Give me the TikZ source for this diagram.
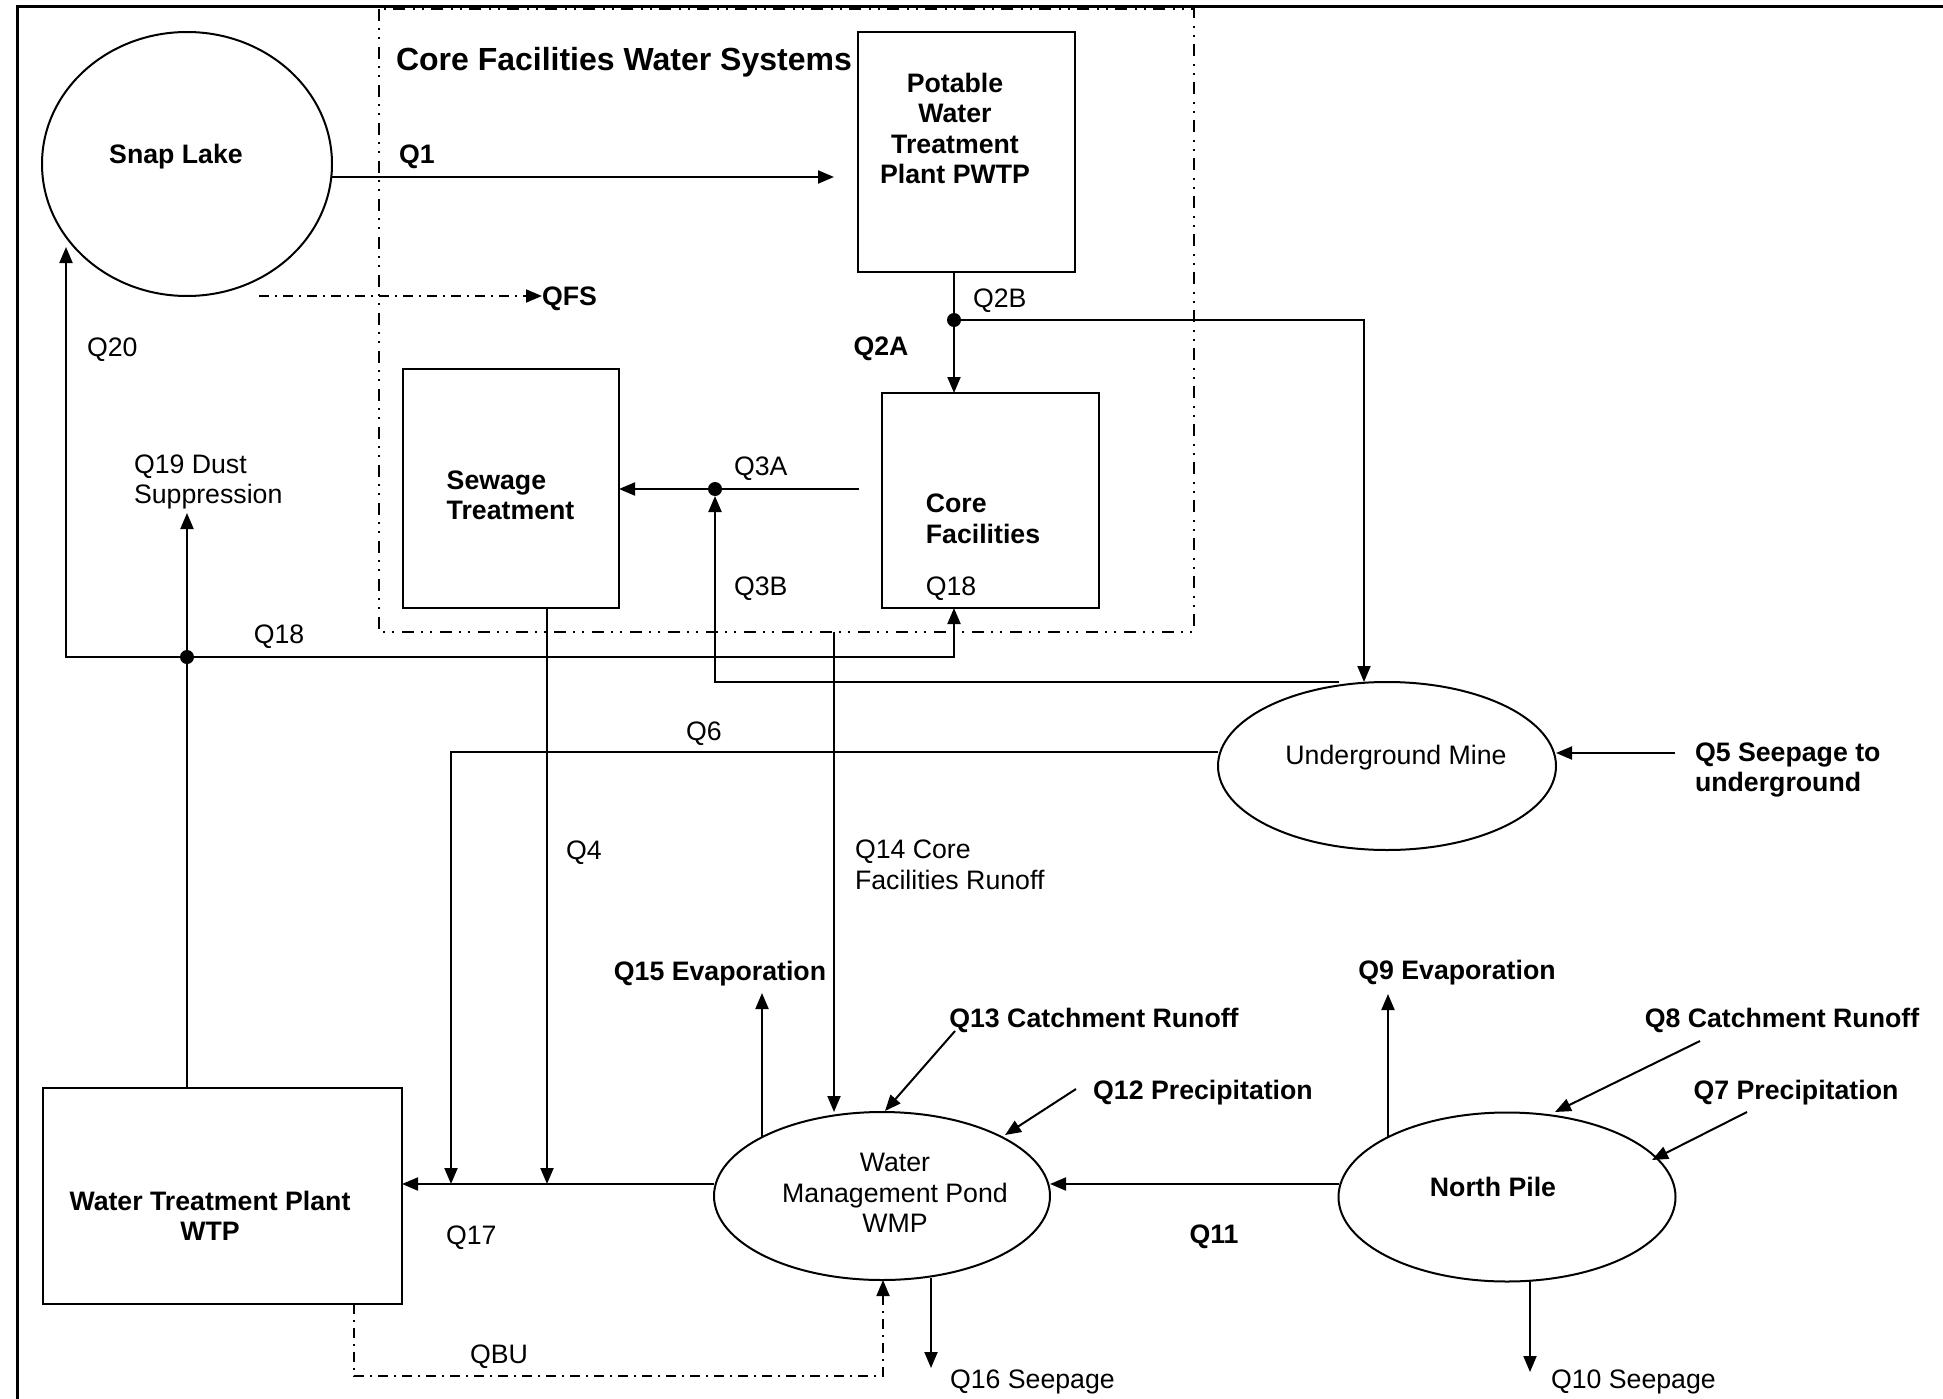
\documentclass[tikz,border=0pt]{standalone}
\usepackage{fontspec}
\setmainfont{Liberation Sans}
\usetikzlibrary{arrows.meta,shapes.geometric}
\newcommand\dgfont{\fontsize{26.7pt}{30.5pt}\selectfont}
\newcommand\dgtitlefont{\fontsize{32pt}{36pt}\selectfont\bfseries}
\begin{document}
\begin{tikzpicture}[x=1pt,y=-1pt,
  every node/.style={inner sep=0pt,outer sep=0pt},
  tr/.style={font=\dgfont},
  tb/.style={font=\dgfont\bfseries},
  one/.style={text height=19pt,text depth=0pt},
  box/.style={draw,rectangle,line width=2.2pt},
  ell/.style={draw,ellipse,line width=2pt},
  ln/.style={line width=2pt},
  arr/.style={line width=2pt,-{Triangle[length=16pt,width=13pt]}},
  ddarr/.style={line width=1.8pt,dash pattern=on 10pt off 6pt on 2pt off 6pt,-{Triangle[length=16pt,width=13pt]}},
  ddd/.style={line width=2pt,dash pattern=on 12pt off 7pt on 2pt off 7pt on 2pt off 8pt},
  dot/.style={circle,fill,minimum size=14pt},
]
\useasboundingbox (0,0) rectangle (1943,1399);
\draw[line width=3pt] (17,1399) -- (17,7) -- (1943,7);
\draw[ddd] (379,9) rectangle (1194,632);
\node[font=\dgtitlefont,anchor=west,text height=23pt,text depth=0pt] (title) at (396,59) {Core Facilities Water Systems};

% main shapes
\node[ell,minimum width=290pt,minimum height=264pt,
  label={[tb,one,xshift=-11pt,yshift=10pt]center:Snap Lake}] (snap) at (187,164) {};
\node[box,minimum width=217pt,minimum height=240pt,
  label={[tb,align=center,xshift=-11.5pt,yshift=23.5pt]center:{Potable\\Water\\Treatment\\Plant PWTP}}] (pwtp) at (966.5,152) {};
\node[box,minimum width=217pt,minimum height=215pt,
  label={[tb,align=left,xshift=-7.5pt,yshift=-18.5pt]center:{Core\\Facilities}},
  label={[tr,one,xshift=-39.5pt,yshift=-85.5pt]center:Q18}] (cf) at (990.5,500.5) {};
\node[box,minimum width=216pt,minimum height=239pt,
  label={[tb,align=left,xshift=-0.5pt,yshift=-7pt]center:{Sewage\\Treatment}}] (sew) at (511,488.5) {};
\node[box,minimum width=359pt,minimum height=216pt,
  label={[tb,align=center,xshift=-12.5pt,yshift=-20pt]center:{Water Treatment Plant\\WTP}}] (wtp) at (222.5,1196) {};
\node[ell,minimum width=338pt,minimum height=168pt,
  label={[tr,one,xshift=9pt,yshift=11pt]center:Underground Mine}] (um) at (1387,766) {};
\node[ell,minimum width=336pt,minimum height=168pt,
  label={[tr,align=center,xshift=13pt,yshift=3pt]center:{Water\\Management Pond\\WMP}}] (wmp) at (882,1196) {};
\node[ell,minimum width=337pt,minimum height=169pt,
  label={[tb,one,xshift=-14pt,yshift=10pt]center:North Pile}] (np) at (1507,1197) {};

% junction dots
\node[dot] (j2) at (954,320) {};
\node[dot] (j3) at (715,489) {};
\node[dot] (j18) at (187,657) {};

% free ends
\coordinate (q1end) at (834,177);
\coordinate (qfsstart) at (259,296);
\coordinate (q3astart) at (859,489);
\coordinate (q20tip) at (66,247);
\coordinate (q19tip) at (187,513);
\coordinate (q17a) at (451,1184);
\coordinate (q17b) at (547,1184);
\coordinate (q14top) at (834,632);
\coordinate (q15a) at (762,1137);
\coordinate (q15b) at (762,993);
\coordinate (q13a) at (955,1031);
\coordinate (q13b) at (885,1111);
\coordinate (q12a) at (1076,1089);
\coordinate (q12b) at (1005,1135);
\coordinate (q16a) at (931,1278);
\coordinate (q16b) at (931,1368);
\coordinate (q9a) at (1388,1138);
\coordinate (q9b) at (1388,994);
\coordinate (q8a) at (1700,1041);
\coordinate (q8b) at (1555,1112);
\coordinate (q7a) at (1747,1112);
\coordinate (q7b) at (1652,1160);
\coordinate (q10a) at (1530,1281);
\coordinate (q10b) at (1530,1372);
\coordinate (q5a) at (1675,753);
\coordinate (qbul) at (354,1376);
\coordinate (qbur) at (883,1376);

% labels
\node[tb,one,anchor=west] (qfs) at (542,296) {QFS};
\node[tr,one,anchor=west] (lq20) at (87,347) {Q20};
\node[tb,one,anchor=west] (lq1) at (399,154) {Q1};
\node[tr,one,anchor=west] (lq2b) at (973,298) {Q2B};
\node[tb,one] (lq2a) at (881,346) {Q2A};
\node[tr,one,anchor=west] (lq3a) at (734,466) {Q3A};
\node[tr,one,anchor=west] (lq3b) at (734,586) {Q3B};
\node[tr,anchor=west,align=left] (lq19) at (134,482) {Q19 Dust\\Suppression};
\node[tr,one] (lq18) at (279,634) {Q18};
\node[tr,one] (lq6) at (704,731) {Q6};
\node[tr,one,anchor=west] (lq4) at (566,850) {Q4};
\node[tr,anchor=west,align=left] (lq14) at (855,865) {Q14 Core\\Facilities Runoff};
\node[tb,anchor=west,align=left] (lq5) at (1695,770) {Q5 Seepage to\\underground};
\node[tb,one] (lq15) at (720,971) {Q15 Evaporation};
\node[tb,one] (lq9) at (1457,970) {Q9 Evaporation};
\node[tb,one] (lq13) at (1094,1018) {Q13 Catchment Runoff};
\node[tb,one] (lq8) at (1782,1018) {Q8 Catchment Runoff};
\node[tb,one] (lq12) at (1203,1090) {Q12 Precipitation};
\node[tb,one] (lq7) at (1796,1090) {Q7 Precipitation};
\node[tr,one,anchor=west] (lq17) at (446,1235) {Q17};
\node[tb,one] (lq11) at (1214,1234) {Q11};
\node[tr,one] (lqbu) at (499,1354) {QBU};
\node[tr,one,anchor=west] (lq16) at (950,1379) {Q16 Seepage};
\node[tr,one,anchor=west] (lq10) at (1551,1379) {Q10 Seepage};

% connectors
\draw[arr] (snap.east |- q1end) -- (q1end);
\draw[ddarr] (qfsstart) -- (qfs.west);
\draw[ln] (j2 |- pwtp.south) -- (j2);
\draw[arr] (j2) -- (j2 |- cf.north);
\draw[arr] (j2) -| ([xshift=-23pt]um.north);
\draw[arr] (q3astart) -- (j3 -| sew.east);
\draw[arr] ([xshift=-48pt]um.north) -| (j3);
\draw[arr] (j18) -| (q20tip);
\draw[arr] (j18) -| (j2 |- cf.south);
\draw[ln] (j18 |- wtp.north) -- (j18);
\draw[arr] (j18) -- (q19tip);
\draw[arr] ([yshift=14pt]um.west) -| (q17a);
\draw[arr] (sew.south -| q17b) -- (q17b);
\draw[arr] (q17a -| wmp.west) -- (q17a -| wtp.east);
\draw[arr] (q17a -| np.west) -- (q17a -| wmp.east);
\draw[arr] (q14top) -- (q14top |- wmp.north);
\draw[arr] (q15a) -- (q15b);
\draw[arr] (q13a) -- (q13b);
\draw[arr] (q12a) -- (q12b);
\draw[arr] (q16a) -- (q16b);
\draw[arr] (q9a) -- (q9b);
\draw[arr] (q8a) -- (q8b);
\draw[arr] (q7a) -- (q7b);
\draw[arr] (q10a) -- (q10b);
\draw[arr] (q5a) -- (q5a -| um.east);
\draw[ddarr] (wtp.south -| qbul) -- (qbul) -- (qbur) -- (qbur |- wmp.south);
\end{tikzpicture}
\end{document}
